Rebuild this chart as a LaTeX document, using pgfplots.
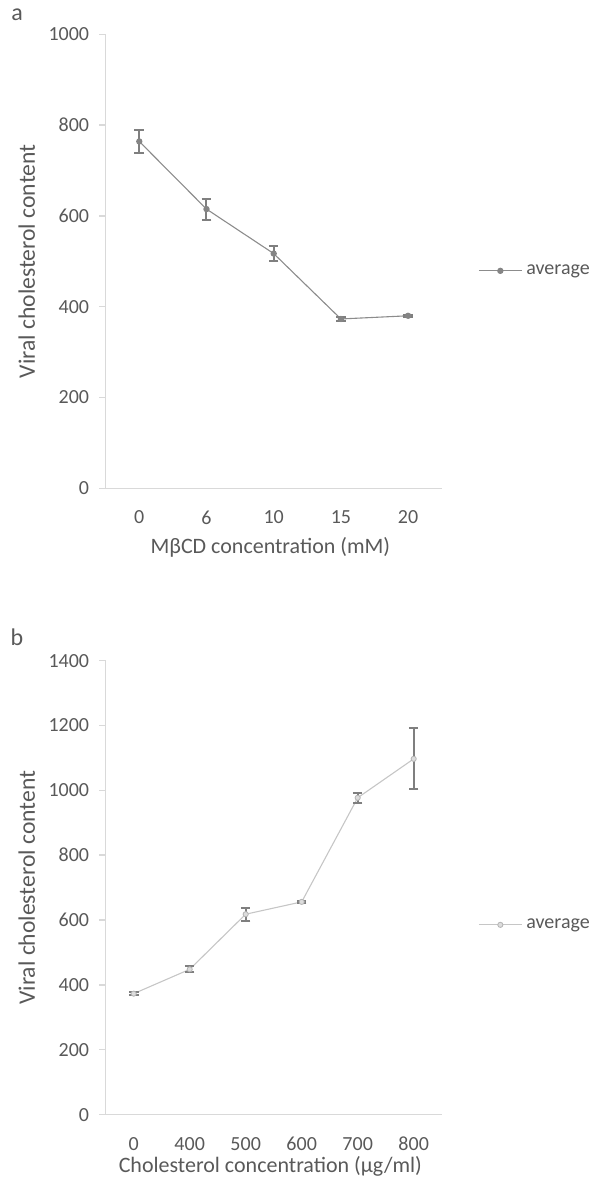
\documentclass[border=0pt]{standalone}
\usepackage{pgfplots}
\pgfplotsset{compat=1.18}
\usepackage{fontspec}
\setmainfont{Carlito}
\definecolor{txtgray}{HTML}{595959}
\definecolor{axgray}{HTML}{D9D9D9}
\definecolor{errgray}{HTML}{7F7F7F}
\definecolor{lineA}{HTML}{8C8C8C}
\definecolor{markA}{HTML}{858585}
\definecolor{lineB}{HTML}{C6C6C6}
\definecolor{markB}{HTML}{DDDDDD}
\definecolor{edgeB}{HTML}{B3B3B3}

\pgfplotsset{
  panel/.style={
    scale only axis,
    width=168bp, height=227bp,
    axis lines=left,
    axis line style={-, draw=axgray, line width=0.7bp},
    xmin=-0.5,
    xtick=data,
    xtick style={draw=none},
    ytick style={draw=axgray, line width=0.7bp},
    tick align=outside,
    major tick length=3.3bp,
    ymin=0,
    /pgf/number format/assume math mode=true,
    /pgf/number format/1000 sep={},
    tick label style={font=\fontsize{10bp}{11bp}\selectfont, text=txtgray},
    yticklabel style={xshift=-1.5bp},
    xticklabel style={yshift=-4.5bp},
    every axis y label/.style={at={(axis description cs:-0.235,0.5)}, rotate=90, anchor=center,
      font=\fontsize{11.8bp}{13bp}\selectfont, text=txtgray},
    legend style={anchor=west, draw=none, fill=none,
      font=\fontsize{10bp}{11bp}\selectfont, text=txtgray},
    legend image code/.code={\draw[mark repeat=2,mark phase=2,##1] plot coordinates {(0bp,0bp)(10.75bp,0bp)(21.5bp,0bp)};},
    error bars/error bar style={color=errgray, line width=1bp},
    error bars/error mark options={rotate=90, mark size=2.4bp, line width=1bp, color=errgray},
  },
  xlab/.style={every axis x label/.style={at={(axis description cs:0.49,#1)}, anchor=center,
      font=\fontsize{11bp}{13bp}\selectfont, text=txtgray}},
}

\begin{document}
\begin{tikzpicture}
\path[use as bounding box] (0,0) rectangle (301bp,-593bp);
\node[font=\fontsize{12bp}{13bp}\selectfont, text=txtgray] at (8.5bp,-7.5bp) {a};
\node[font=\fontsize{12bp}{13bp}\selectfont, text=txtgray] at (8.5bp,-318.5bp) {b};

\begin{axis}[panel, xlab=-0.131,
    at={(52.85bp,-244.15bp)}, anchor=south west,
    xmax=4.5, ymax=1000, ytick={0,200,400,600,800,1000},
    xticklabels={0,6,10,15,20},
    xlabel={MβCD concentration (mM)},
    ylabel={Viral cholesterol content},
    legend style={at={(1.09,0.479)}},
]
\addplot[color=lineA, line width=0.55bp, mark=*, mark size=1.3bp,
    mark options={fill=markA, draw=markA},
    error bars/.cd, y dir=both, y explicit]
  coordinates {
    (0,764) +- (0,25)
    (1,615) +- (0,23)
    (2,517) +- (0,16)
    (3,373) +- (0,5)
    (4,380) +- (0,2)
  };
\addlegendentry{average}
\end{axis}

\begin{axis}[panel, xlab=-0.115,
    at={(52.85bp,-557.3bp)}, anchor=south west,
    xmax=5.5, ymax=1400, ytick={0,200,400,600,800,1000,1200,1400},
    xticklabels={0,400,500,600,700,800},
    xlabel={Cholesterol concentration (µg/ml)},
    ylabel={Viral cholesterol content},
    legend style={at={(1.09,0.418)}},
]
\addplot[color=lineB, line width=0.55bp, mark=*, mark size=1.3bp,
    mark options={fill=markB, draw=edgeB, line width=0.4bp},
    error bars/.cd, y dir=both, y explicit]
  coordinates {
    (0,373) +- (0,5)
    (1,448) +- (0,9)
    (2,618) +- (0,20)
    (3,656) +- (0,3)
    (4,977) +- (0,15)
    (5,1097) +- (0,94)
  };
\addlegendentry{average}
\end{axis}
\end{tikzpicture}
\end{document}
